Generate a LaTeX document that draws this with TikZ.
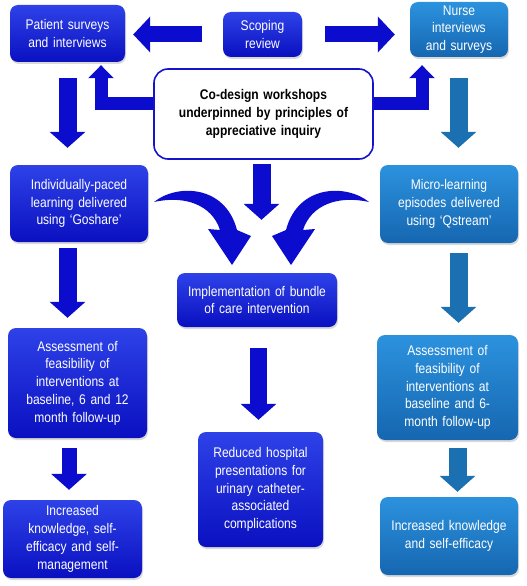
\documentclass[tikz,border=0pt]{standalone}
\usepackage{fontspec}
\setmainfont{Liberation Sans}[FakeStretch=0.86]
\usetikzlibrary{arrows.meta,shadows,calc}
\definecolor{lbtop}{RGB}{46,66,232}
\definecolor{lbbot}{RGB}{10,16,192}
\definecolor{rbtop}{RGB}{44,146,222}
\definecolor{rbbot}{RGB}{22,102,176}
\definecolor{arrblue}{RGB}{12,12,206}
\definecolor{arrteal}{RGB}{26,112,176}
\definecolor{cdborder}{RGB}{20,20,204}
\pgfdeclarelayer{background}
\pgfsetlayers{background,main}
\begin{document}
\begin{tikzpicture}[x=1pt,y=-1pt,
  box/.style={rounded corners=8pt, text=white, align=center, inner sep=0pt,
    font=\fontsize{14}{17.8}\selectfont,
    drop shadow={opacity=0.3,shadow xshift=1pt,shadow yshift=-2pt}},
  bluebox/.style={box, top color=lbtop, bottom color=lbbot},
  tealbox/.style={box, top color=rbtop, bottom color=rbbot},
  codesign/.style={rounded corners=14pt, draw=cdborder, line width=1.6pt, fill=white,
    align=center, inner sep=0pt, font=\fontsize{14}{17.8}\selectfont\bfseries},
  fatdown/.style={draw=arrblue, line width=18pt, -{Triangle[length=16pt,width=35pt]}},
  fathoriz/.style={draw=arrblue, line width=16pt, -{Triangle[length=17pt,width=35pt]}},
  elbow/.style={draw=arrblue, line width=13pt, line join=miter, -{Triangle[length=13pt,width=25pt]}},
  tealdown/.style={draw=arrteal, line width=18pt, -{Triangle[length=16pt,width=35pt]}},
  curvedarrow/.style={fill=arrblue}
]
\useasboundingbox (0,0) rectangle (527,586);

% boxes
\node[bluebox, minimum width=115pt, minimum height=57pt, text width=111pt] (P) at (67.5,33.5) {Patient surveys\\and interviews};
\node[bluebox, minimum width=79pt, minimum height=45pt, text width=75pt] (S) at (262.5,34.5) {Scoping\\review};
\node[tealbox, minimum width=98pt, minimum height=55pt, text width=94pt] (N) at (459,29.5) {Nurse\\interviews\\and surveys};
\node[codesign, minimum width=219pt, minimum height=90pt, text width=214pt] (C) at (263.5,114) {Co-design workshops\\underpinned by principles of\\appreciative inquiry};
\node[bluebox, minimum width=138pt, minimum height=77pt, text width=134pt] (I) at (79,203.5) {Individually-paced\\learning delivered\\using ‘Goshare’};
\node[tealbox, minimum width=138pt, minimum height=78pt, text width=134pt] (M) at (449,204) {Micro-learning\\episodes delivered\\using ‘Qstream’};
\node[bluebox, minimum width=160pt, minimum height=54pt, text width=156pt] (Impl) at (257,300) {Implementation of bundle\\of care intervention};
\node[bluebox, minimum width=139pt, minimum height=110pt, text width=135pt] (AL) at (77.5,383) {Assessment of\\feasibility of\\interventions at\\baseline, 6 and 12\\month follow-up};
\node[tealbox, minimum width=141pt, minimum height=105pt, text width=137pt] (AR) at (447.5,387.5) {Assessment of\\feasibility of\\interventions at\\baseline and 6-\\month follow-up};
\node[bluebox, minimum width=125pt, minimum height=115pt, text width=121pt] (R) at (260.5,489.5) {Reduced hospital\\presentations for\\urinary catheter-\\associated\\complications};
\node[bluebox, minimum width=139pt, minimum height=78pt, text width=135pt] (KL) at (72.5,539) {Increased\\knowledge, self-\\efficacy and self-\\management};
\node[tealbox, minimum width=138pt, minimum height=78pt, text width=134pt] (KR) at (449,536) {Increased knowledge\\and self-efficacy};

\begin{pgfonlayer}{background}
% horizontal arrows from scoping review
\draw[fathoriz, shorten <=21pt, shorten >=8pt] (S.west) -- (P.east |- S.west);
\draw[fathoriz, shorten <=23pt, shorten >=15pt] (S.east) -- (N.west |- S.east);
% elbow arrows from co-design
\draw[elbow, shorten >=3pt] ($(C.west)+(0,-10.5)$) -| ($(P.south)+(33.5,0)$);
\draw[elbow, shorten >=8pt] ($(C.east)+(0,-10.5)$) -| ($(N.south)+(-37,0)$);
% left column
\draw[fatdown, shorten <=16pt, shorten >=17pt] (P.south) -- (P.south |- I.north);
\draw[fatdown, shorten <=6pt, shorten >=10pt] (P.south |- I.south) -- (P.south |- AL.north);
\draw[fatdown, line width=15pt, shorten <=10pt, shorten >=10pt] ($(P.south |- AL.south)+(1.5,0)$) -- ($(P.south |- KL.north)+(1.5,0)$);
% right column
\draw[tealdown, shorten <=21pt, shorten >=17pt] ($(N.south)+(-0.5,0)$) -- ($(N.south |- M.north)+(-0.5,0)$);
\draw[tealdown, shorten <=10pt, shorten >=12pt] ($(N.south |- M.south)+(-0.5,0)$) -- ($(N.south |- AR.north)+(-0.5,0)$);
\draw[tealdown, shorten <=8pt, shorten >=5pt] ($(N.south |- AR.south)+(-1.5,0)$) -- ($(N.south |- KR.north)+(-1.5,0)$);
% centre column
\draw[fatdown, shorten <=4pt, shorten >=53pt] ($(C.south)+(-2,0)$) -- ($(C.south |- Impl.north)+(-2,0)$);
\draw[fatdown, line width=17pt, shorten <=21pt, shorten >=12pt] ($(Impl.south)+(1.5,0)$) -- ($(Impl.south |- R.north)+(1.5,0)$);
% curved arrows
\coordinate (LT) at (154,202);
\coordinate (RT) at (369,202);
\fill[curvedarrow] (LT) .. controls (176,184) and (225,184) .. (237,230)
  -- (251,236) -- (232,265) -- (208,229) -- (220,230)
  .. controls (212,205) and (185,195) .. (LT) -- cycle;
\fill[curvedarrow] (RT) .. controls (347,184) and (298,184) .. (286,230)
  -- (272,236) -- (291,265) -- (315,229) -- (303,230)
  .. controls (311,205) and (338,195) .. (RT) -- cycle;
\end{pgfonlayer}
\end{tikzpicture}
\end{document}
